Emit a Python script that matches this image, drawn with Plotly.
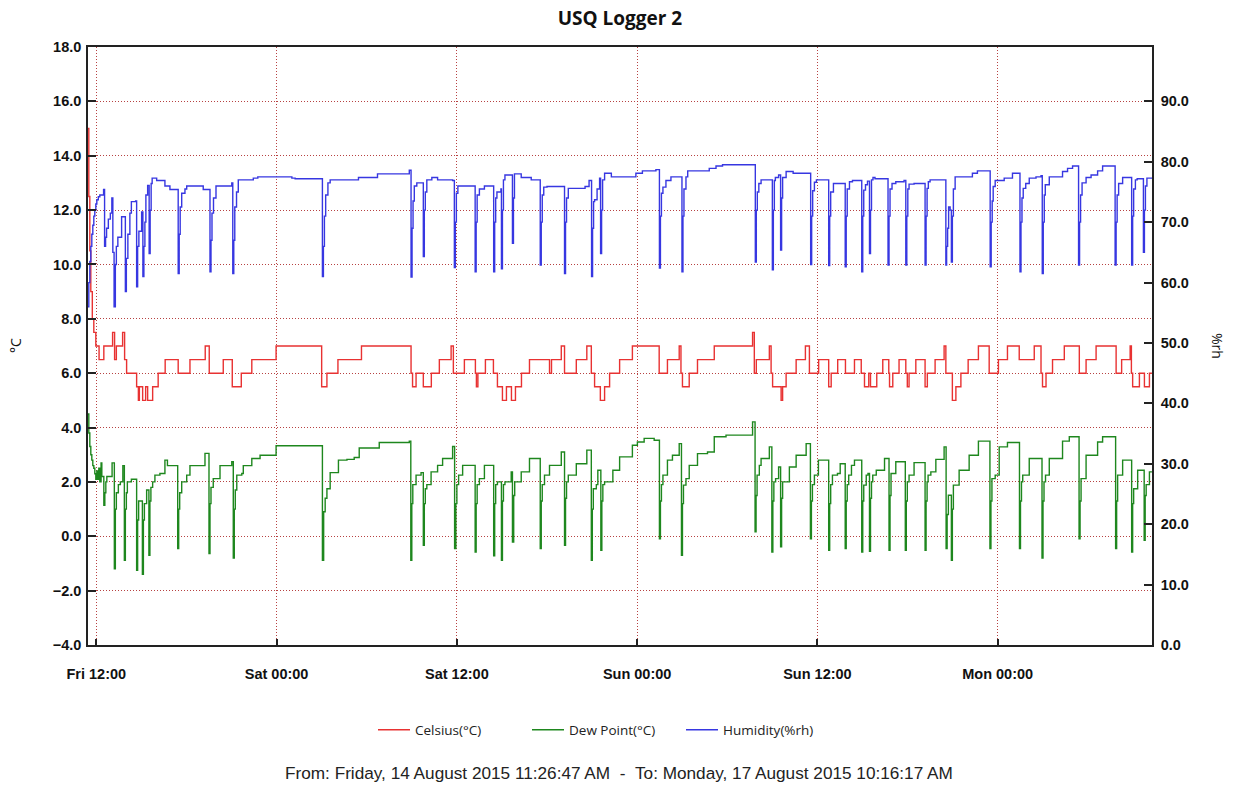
import pandas as pd
import plotly.graph_objects as go

# Logger readings, as minutes after Fri 14 Aug 2015 12:00 and value at that change
START = pd.Timestamp("2015-08-14 12:00:00")
RANGE_FROM = "2015-08-14 11:26:47"
RANGE_TO = "2015-08-17 10:16:17"

temp_minutes = [
    -34, -30, -26, -22, -16, -10, -2, 11, 30, 65, 73, 80, 105, 113, 121, 161, 168, 172,
    185, 197, 205, 225, 247, 275, 327, 374, 435, 451, 507, 543, 579, 621, 718, 900, 921,
    965, 1059, 1257, 1263, 1277, 1306, 1338, 1370, 1417, 1426, 1470, 1514, 1518, 1524,
    1554, 1586, 1602, 1622, 1638, 1658, 1674, 1698, 1730, 1810, 1818, 1857, 1870, 1917,
    1959, 1977, 1990, 2013, 2030, 2050, 2090, 2141, 2248, 2281, 2328, 2335, 2341, 2368,
    2401, 2468, 2621, 2628, 2636, 2688, 2695, 2701, 2735, 2741, 2755, 2795, 2832, 2848,
    2885, 2925, 2935, 2961, 2992, 3028, 3055, 3068, 3085, 3092, 3117, 3141, 3165, 3168,
    3181, 3206, 3233, 3239, 3246, 3273, 3310, 3319, 3350, 3386, 3393, 3419, 3433, 3453,
    3482, 3523, 3566, 3603, 3639, 3686, 3746, 3773, 3779, 3793, 3819, 3866, 3926, 3953,
    3993, 4073, 4095, 4129, 4134, 4139, 4166, 4186, 4206, 4216,
]
temp_values = [
    15.0, 12.5, 10.5, 9.0, 8.0, 7.5, 7.0, 6.5, 7.0, 7.5, 6.5, 7.0, 7.5, 6.5, 6.0, 5.5, 5.0, 5.5,
    5.0, 5.5, 5.0, 5.5, 6.0, 6.5, 6.0, 6.5, 7.0, 6.0, 6.5, 5.5, 6.0, 6.5, 7.0, 5.5, 6.0,
    6.5, 7.0, 6.0, 5.5, 6.0, 5.5, 6.0, 6.5, 7.0, 6.0, 6.5, 6.0, 5.5, 6.0,
    6.5, 6.0, 5.5, 5.0, 5.5, 5.0, 5.5, 6.0, 6.5, 6.0, 6.5, 7.0, 6.0, 6.5,
    7.0, 6.0, 5.5, 5.0, 5.5, 6.0, 6.5, 7.0, 6.0, 6.5, 7.0, 6.0, 5.5, 6.0,
    6.5, 7.0, 7.5, 6.0, 6.5, 7.0, 6.0, 5.5, 5.0, 5.5, 6.0, 6.5, 7.0, 6.0,
    6.5, 5.5, 6.0, 6.5, 6.0, 6.5, 6.0, 5.5, 6.0, 5.5, 6.0, 6.5, 6.0, 5.5,
    6.0, 6.5, 6.0, 5.5, 6.0, 6.5, 5.5, 6.0, 6.5, 7.0, 6.0, 5.0, 5.5, 6.0,
    6.5, 7.0, 6.0, 6.5, 7.0, 6.5, 7.0, 6.0, 5.5, 6.0, 6.5, 7.0, 6.0, 6.5,
    7.0, 6.0, 6.5, 7.0, 6.0, 5.5, 6.0, 5.5, 6.0, 6.0,
]

dew_minutes = [
    -34, -30, -26, -22, -18, -14, -10, -6, -2, 2, 5, 10, 14, 19, 22, 30, 34, 38, 42, 63,
    72, 76, 80, 88, 96, 106, 112, 116, 120, 124, 140, 161, 165, 169, 184, 188, 192, 201,
    210, 214, 218, 225, 234, 254, 274, 284, 325, 329, 333, 341, 361, 374, 434, 450, 454,
    458, 467, 494, 541, 547, 551, 555, 561, 581, 587, 621, 654, 718, 903, 908, 914, 921,
    934, 967, 1001, 1030, 1050, 1130, 1250, 1256, 1260, 1264, 1277, 1297, 1306, 1310,
    1314, 1320, 1337, 1363, 1383, 1423, 1431, 1436, 1440, 1447, 1463, 1513, 1517, 1521,
    1530, 1550, 1587, 1591, 1595, 1602, 1618, 1622, 1626, 1632, 1657, 1662, 1667, 1671,
    1697, 1730, 1773, 1777, 1781, 1790, 1810, 1857, 1870, 1874, 1878, 1885, 1917, 1959,
    1977, 1981, 1985, 1997, 2003, 2015, 2019, 2023, 2030, 2063, 2090, 2141, 2161, 2188,
    2228, 2249, 2253, 2257, 2263, 2281, 2301, 2328, 2337, 2341, 2345, 2355, 2368, 2401,
    2441, 2468, 2515, 2621, 2631, 2635, 2639, 2648, 2655, 2688, 2698, 2702, 2706, 2713,
    2725, 2733, 2737, 2741, 2768, 2795, 2835, 2852, 2856, 2860, 2868, 2884, 2925, 2929,
    2933, 2940, 2960, 2971, 2991, 2995, 2999, 3005, 3016, 3028, 3057, 3061, 3065, 3075,
    3082, 3088, 3092, 3096, 3101, 3115, 3148, 3166, 3170, 3174, 3193, 3231, 3235, 3239,
    3246, 3266, 3310, 3314, 3318, 3322, 3333, 3353, 3386, 3394, 3398, 3403, 3415, 3419,
    3423, 3446, 3486, 3523, 3569, 3573, 3577, 3590, 3606, 3639, 3687, 3691, 3695, 3700,
    3726, 3777, 3781, 3785, 3791, 3806, 3859, 3886, 3925, 3929, 3933, 3953, 3999, 4019,
    4071, 4075, 4079, 4099, 4135, 4139, 4143, 4159, 4185, 4189, 4193, 4206, 4216,
]
dew_values = [
    4.5, 3.8, 3.3, 3.0, 2.8, 2.6, 2.5, 2.3, 2.1, 2.4, 2.1, 2.5, 2.0, 2.7, 2.2, 1.14, 1.6, 2.0, 2.2, 2.7,
    -1.2, 1.0, 1.6, 1.9, 2.0, 2.6, -0.88, 1.0, 1.6, 2.0, 2.1, -1.25, 0.6, 1.3, -1.4, 0.6, 1.2, 1.7,
    -0.7, 1.3, 1.8, 2.0, 2.25, 2.31, 2.8, 2.6, -0.45, 1.0, 1.6, 2.0, 2.25, 2.6, 3.05, -0.64, 1.2,
    1.8, 2.12, 2.6, 2.74, -0.8, 1.0, 1.7, 2.25, 2.31, 2.6, 2.86, 2.98, 3.33, -0.88, 0.9, 1.4, 1.75,
    2.34, 2.8, 2.83, 2.9, 3.25, 3.45, 3.5, -0.88, 1.2, 1.9, 2.25, 2.34, -0.33, 1.2,
    1.75, 1.9, 2.37, 2.61, 2.86, 3.3, -0.45, 1.2, 1.9, 2.25, 2.61, -0.58, 1.2, 1.9,
    2.12, 2.61, -0.72, 1.2, 1.9, 2.0, -0.88, 1.3, 1.9, 2.0, 2.37, -0.21, 1.5, 2.0,
    2.37, 2.86, -0.45, 1.3, 1.9, 2.25, 2.61, 3.1, -0.33, 1.4, 2.0, 2.25, 2.67, 3.17,
    -0.88, 1.0, 1.75, 1.9, 2.43, -0.52, 1.3, 1.9, 2.0, 2.43, 2.92, 3.35, 3.47, 3.6,
    3.53, -0.09, 1.3, 1.9, 2.25, 2.8, 2.98, 3.41, -0.7, 1.2, 1.88, 2.12, 2.61, 3.04,
    3.1, 3.66, 3.72, 4.21, 0.16, 1.5, 2.25, 2.61, 2.86, 3.29, -0.58, 1.3, 2.0, 2.12,
    2.55, -0.39, 1.4, 2.0, 2.55, 2.98, 3.41, -0.09, 1.3, 1.9, 2.25, 2.8, -0.52, 1.2,
    1.9, 2.25, 2.31, 2.67, -0.45, 1.3, 1.9, 2.25, 2.61, 2.8, -0.58, 1.3, 1.88, 2.25,
    2.31, -0.55, 1.4, 2.0, 2.25, 2.43, 2.86, -0.52, 1.5, 2.31, 2.74, -0.52, 1.3, 2.0,
    2.25, 2.71, -0.52, 1.3, 2.0, 2.25, 2.37, 2.83, 3.29, -0.45, 0.8, 1.51, -0.88, 1.0,
    1.88, 2.43, 2.98, 3.5, -0.45, 1.3, 2.12, 2.25, 3.29, 3.45, -0.45, 1.3, 2.0, 2.25,
    2.86, -0.8, 1.3, 2.0, 2.25, 2.86, 3.5, 3.66, -0.09, 1.3, 2.12, 2.98, 3.47, 3.66,
    -0.45, 1.3, 2.25, 2.8, -0.58, 1.2, 1.75, 2.43, -0.15, 1.5, 1.9, 2.37, 2.37,
]

hum_minutes = [
    -34, -30, -26, -22, -18, -14, -10, -6, -2, 2, 8, 14, 29, 33, 37, 41, 48, 56, 62, 66,
    71, 76, 80, 86, 101, 116, 120, 126, 134, 140, 157, 161, 165, 170, 181, 186, 190, 194,
    198, 205, 211, 215, 219, 223, 241, 274, 294, 327, 331, 335, 341, 354, 361, 427, 454,
    458, 462, 468, 478, 541, 545, 549, 553, 560, 567, 627, 645, 781, 794, 903, 907, 911,
    916, 925, 934, 1047, 1123, 1250, 1257, 1261, 1265, 1270, 1280, 1306, 1310, 1314, 1320,
    1340, 1363, 1423, 1430, 1434, 1438, 1444, 1513, 1517, 1521, 1530, 1550, 1587, 1591,
    1595, 1600, 1616, 1618, 1622, 1626, 1632, 1662, 1666, 1670, 1697, 1737, 1773, 1777,
    1781, 1787, 1800, 1870, 1874, 1878, 1885, 1952, 1968, 1978, 1982, 1986, 1990, 2000,
    2010, 2014, 2018, 2022, 2030, 2057, 2155, 2181, 2235, 2249, 2253, 2257, 2263, 2275,
    2295, 2339, 2343, 2347, 2355, 2362, 2448, 2475, 2501, 2632, 2636, 2640, 2646, 2655,
    2700, 2704, 2708, 2712, 2725, 2733, 2737, 2741, 2755, 2783, 2853, 2857, 2861, 2868,
    2876, 2925, 2929, 2933, 2944, 2991, 2995, 2999, 3008, 3020, 3057, 3061, 3065, 3072,
    3080, 3088, 3092, 3096, 3102, 3110, 3162, 3166, 3170, 3178, 3193, 3226, 3233, 3237,
    3241, 3246, 3266, 3310, 3314, 3318, 3323, 3330, 3393, 3396, 3400, 3404, 3410, 3415,
    3419, 3423, 3430, 3499, 3519, 3570, 3574, 3578, 3582, 3590, 3626, 3659, 3689, 3693,
    3697, 3702, 3712, 3726, 3753, 3773, 3778, 3782, 3786, 3790, 3806, 3859, 3879, 3899,
    3923, 3927, 3931, 3937, 3953, 3973, 3999, 4019, 4069, 4073, 4077, 4083, 4099, 4135,
    4139, 4143, 4150, 4157, 4182, 4186, 4190, 4196, 4216,
]
hum_values = [
    56, 60, 63.5, 66, 68, 69.5, 71, 72, 73, 73.7, 74.2, 74.5, 75.4, 66.0, 67.5, 69, 70.5, 71.5, 74.0, 65,
    56, 63, 66, 67.5, 70.9, 58.5, 64, 68, 71.5, 73.4, 73.5, 59.3, 66, 68.5, 71.7, 61.0, 66, 70,
    74.5, 76.1, 64.8, 72, 76.4, 77.3, 76.9, 76.0, 75.4, 61.5, 68, 72.5, 74.8, 75.5, 76.0, 75.4, 61.8,
    67, 71.5, 74, 76.0, 76.5, 61.5, 67, 72.5, 75, 77.0, 77.3, 77.5, 77.3, 77.2, 61.0, 66, 71,
    74.5, 76.5, 77.0, 77.4, 78.0, 78.6, 60.9, 69, 73.5, 76.0, 76.5, 64.3, 72, 75, 77.0,
    77.4, 77.0, 76.9, 62.5, 70, 74.8, 76.0, 61.8, 70, 74.5, 75.5, 76.0, 61.8, 70,
    74, 75, 75.5, 62.3, 72, 77.0, 77.8, 66.5, 74, 78.0, 77.4, 77.0, 62.9, 70,
    74.5, 75.8, 75.9, 61.5, 70, 74, 75.6, 75.9, 76.9, 61.0, 69, 73.4, 73.7, 75.5,
    77.3, 64.8, 72, 77.0, 78.1, 77.5, 78.1, 78.5, 78.7, 62.4, 71, 74.8, 75.8, 76.9,
    77.5, 61.8, 71, 75.5, 77.5, 78.5, 78.9, 79.3, 79.5, 63.4, 72, 75.0, 76.4, 77.0,
    62.1, 72, 76.9, 77.4, 77.8, 65.4, 74, 77.4, 78.4, 78.1, 63.0, 71, 75.2, 76.6,
    77.0, 62.8, 71, 75.0, 76.4, 62.6, 71, 75.5, 76.7, 76.9, 61.8, 71, 75.3, 76.2,
    76.8, 64.8, 72, 77.0, 77.4, 77.2, 62.9, 71, 75.5, 76.4, 76.7, 76.9, 62.9, 71,
    75.5, 76.3, 76.4, 62.9, 71, 75.6, 76.7, 77.0, 62.9, 66, 69.0, 72.5, 72.0, 63.4,
    71, 75.5, 77.5, 78.1, 78.5, 62.6, 70, 73.5, 75.9, 76.9, 77.3, 78.1, 61.8, 70,
    74, 75.6, 76.4, 77.3, 77.5, 77.7, 61.5, 70, 74.5, 76.2, 77.5, 78.4, 78.9, 79.3,
    62.9, 70, 74.5, 76.5, 77.4, 77.8, 78.5, 79.3, 62.9, 70, 74.5, 76.4, 77.4, 62.9,
    71, 75.5, 77.0, 77.2, 65.0, 72, 76.0, 77.3, 77.4,
]

SERIES_NAMES = ["Celsius(°C)", "Dew Point(°C)", "Humidity(%rh)"]
FOOTER = ("From: Friday, 14 August 2015 11:26:47 AM&nbsp;&nbsp;-&nbsp;&nbsp;"
          "To: Monday, 17 August 2015 10:16:17 AM")


def to_times(minutes):
    return START + pd.to_timedelta(minutes, unit="min")


GRID = "rgba(175,45,45,0.9)"
GRID_DASH = "1px,2px"
AXIS = "#222222"
TICK_FONT = dict(family="Liberation Sans", size=14.5, color="#111111", weight="bold")

fig = go.Figure()
fig.add_trace(go.Scatter(
    x=to_times(temp_minutes), y=temp_values, name=SERIES_NAMES[0], mode="lines",
    line=dict(color="rgb(232,50,50)", width=1.4, shape="hv"), yaxis="y",
))
fig.add_trace(go.Scatter(
    x=to_times(dew_minutes), y=dew_values, name=SERIES_NAMES[1], mode="lines",
    line=dict(color="rgb(30,135,30)", width=1.4, shape="hv"), yaxis="y",
))
fig.add_trace(go.Scatter(
    x=to_times(hum_minutes), y=hum_values, name=SERIES_NAMES[2], mode="lines",
    line=dict(color="rgb(55,55,225)", width=1.4, shape="hv"), yaxis="y2",
))

fig.update_layout(
    width=1233, height=787,
    margin=dict(l=88, r=81, t=47, b=142),
    paper_bgcolor="white", plot_bgcolor="white",
    font=dict(family="Liberation Sans", color="#111111"),
    title=dict(text="<b>USQ Logger 2</b>", x=0.5, xref="paper", y=1 - 18 / 787,
               yref="container", yanchor="middle",
               font=dict(family="Open Sans", size=19, color="#111111")),
    showlegend=True,
    legend=dict(orientation="h", x=(604 - 88) / 1064, xanchor="center", y=-0.142,
                yanchor="middle", entrywidth=107, entrywidthmode="pixels",
                font=dict(family="Open Sans", size=13.5, color="#222222"),
                itemwidth=32, traceorder="normal"),
    xaxis=dict(
        type="date", range=[RANGE_FROM, RANGE_TO],
        tick0="2015-08-14 00:00:00", dtick=12 * 3600 * 1000, tickformat="%a %H:%M",
        showgrid=True, gridcolor=GRID, griddash=GRID_DASH, gridwidth=1,
        showline=True, linecolor=AXIS, linewidth=1.5, mirror=True,
        ticks="inside", ticklen=6, tickcolor=AXIS, tickwidth=1.5,
        tickfont=TICK_FONT, ticklabelstandoff=15, zeroline=False,
    ),
    yaxis=dict(
        range=[-4, 18], tick0=0, dtick=2, tickformat=".1f",
        showgrid=True, gridcolor=GRID, griddash=GRID_DASH, gridwidth=1,
        showline=True, linecolor=AXIS, linewidth=1.5, zeroline=False,
        ticks="inside", ticklen=8, tickcolor=AXIS, tickwidth=1.5,
        tickfont=TICK_FONT, ticklabelstandoff=2,
    ),
    yaxis2=dict(
        overlaying="y", side="right", range=[0, 99], tick0=0, dtick=10, tickformat=".1f",
        showgrid=False, showline=True, linecolor=AXIS, linewidth=1.5, zeroline=False,
        ticks="inside", ticklen=8, tickcolor=AXIS, tickwidth=1.5,
        tickfont=TICK_FONT, ticklabelstandoff=4,
    ),
    annotations=[
        dict(text="°C", xref="paper", yref="paper", x=(15 - 88) / 1064, y=0.5,
             textangle=-90, showarrow=False, xanchor="center", yanchor="middle",
             font=dict(family="Open Sans", size=14, color="#111111")),
        dict(text="%rh", xref="paper", yref="paper", x=1 + (1218 - 1152) / 1064, y=0.5,
             textangle=90, showarrow=False, xanchor="center", yanchor="middle",
             font=dict(family="Open Sans", size=14, color="#111111")),
        dict(text=FOOTER, xref="paper", yref="paper", x=(619 - 88) / 1064,
             y=-(773 - 645) / 598, showarrow=False, xanchor="center", yanchor="middle",
             font=dict(family="Liberation Sans", size=17.2, color="#222222")),
    ],
)

fig.write_html("out.html")
